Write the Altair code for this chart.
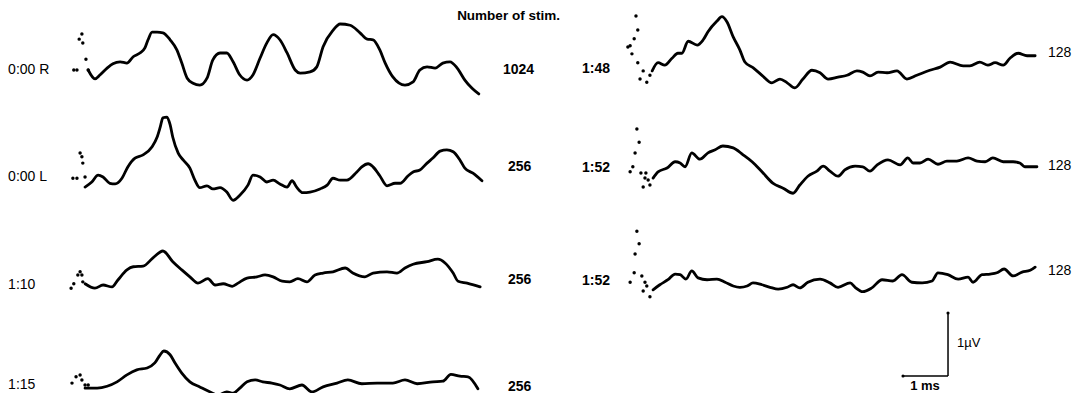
import altair as alt
import pandas as pd

# ---------------- data (time in ms from trace start, amplitude in µV) ----------------
trace_names = ["0:00 R", "0:00 L", "1:10", "1:15", "1:48", "1:52a", "1:52b"]
trace_labels = ["0:00 R", "0:00 L", "1:10", "1:15", "1:48", "1:52", "1:52"]
n_stim = ["1024", "256", "256", "256", "128", "128", "128"]

t_R = [.36, .51, .62, .78, .91, 1.07, 1.22, 1.36, 1.51, 1.62, 1.69, 1.78, 1.89, 2.02, 2.18, 2.33, 2.44, 2.56, 2.69, 2.84,
       3.00, 3.13, 3.29, 3.44, 3.58, 3.73, 3.89, 4.02, 4.18, 4.33, 4.47, 4.62, 4.78, 4.96, 5.07, 5.29, 5.44, 5.58, 5.80, 5.96,
       6.18, 6.40, 6.56, 6.69, 6.84, 6.96, 7.13, 7.40, 7.58, 7.73, 7.89, 8.07, 8.24, 8.40, 8.56, 8.73, 8.89, 9.04]
a_R = [0, -.14, -.08, .03, .10, .13, .11, .21, .27, .35, .48, .60, .60, .59, .48, .32, .11, -.13, -.21, -.24,
       -.13, .16, .27, .27, .13, -.08, -.16, -.08, .19, .43, .56, .48, .27, 0, -.05, -.03, .05, .37, .63, .73,
       .71, .59, .49, .48, .32, .11, -.11, -.24, -.19, 0, .05, .03, .11, .13, .03, -.16, -.29, -.38]

t_L = [.29, .44, .58, .69, .84, .96, 1.11, 1.24, 1.40, 1.58, 1.78, 1.89, 1.96, 2.02, 2.11, 2.18, 2.24, 2.36, 2.47, 2.62,
       2.73, 2.84, 3.00, 3.13, 3.29, 3.44, 3.58, 3.73, 3.91, 4.02, 4.18, 4.33, 4.47, 4.62, 4.78, 4.89, 5.00, 5.13, 5.29, 5.51,
       5.67, 5.80, 5.96, 6.11, 6.33, 6.44, 6.58, 6.69, 6.84, 7.00, 7.18, 7.29, 7.47, 7.58, 7.73, 7.89, 8.02, 8.18, 8.33, 8.47,
       8.62, 8.73, 8.91, 9.11]
a_L = [-.16, -.08, .03, 0, -.10, -.11, -.02, .16, .30, .35, .48, .63, .79, .94, .95, .83, .63, .38, .27, .14,
       -.05, -.17, -.14, -.19, -.17, -.24, -.37, -.29, -.13, .03, 0, -.08, -.05, -.11, -.16, -.06, -.17, -.25, -.24, -.19,
       -.13, -.02, -.05, -.05, .08, .16, .21, .16, .02, -.14, -.10, -.10, .02, .08, .11, .22, .30, .41, .43, .40,
       .27, .14, .06, -.06]

t_110 = [.29, .51, .69, .89, 1.02, 1.22, 1.36, 1.58, 1.80, 2.02, 2.24, 2.44, 2.62, 2.80, 3.02, 3.18, 3.36, 3.56, 3.69, 3.89,
         4.11, 4.29, 4.47, 4.67, 4.84, 5.02, 5.22, 5.40, 5.58, 5.80, 6.07, 6.24, 6.51, 6.69, 7.00, 7.22, 7.40, 7.58, 7.89, 8.13,
         8.29, 8.47, 8.58, 8.78, 9.07]
a_110 = [.02, -.05, 0, -.03, .08, .24, .29, .30, .43, .54, .37, .24, .13, .03, .10, 0, .02, -.02, .03, .11,
         .13, .16, .13, .06, .05, .10, .05, .16, .19, .21, .27, .19, .13, .19, .21, .19, .27, .33, .37, .41,
         .35, .19, .06, .03, -.03]

t_115 = [.29, .56, .78, 1.00, 1.22, 1.44, 1.67, 1.84, 1.96, 2.04, 2.18, 2.29, 2.44, 2.62, 2.84, 3.07, 3.24, 3.44, 3.58, 3.73,
         3.89, 4.07, 4.24, 4.44, 4.62, 4.84, 5.11, 5.33, 5.58, 5.89, 6.13, 6.44, 6.78, 7.13, 7.40, 7.67, 8.02, 8.24, 8.42, 8.62,
         8.80, 9.02]
a_115 = [-.05, -.05, -.02, .05, .16, .24, .27, .35, .48, .54, .48, .35, .19, .05, -.03, -.11, -.16, -.11, -.13, -.05,
         .05, .08, .05, .03, 0, -.06, 0, -.11, -.03, .03, .08, .02, .03, .03, .08, .02, .05, .06, .17, .14,
         .13, -.06]

t_148 = [.56, .69, .84, 1.00, 1.13, 1.22, 1.36, 1.56, 1.69, 1.80, 2.00, 2.11, 2.22, 2.36, 2.51, 2.62, 2.80, 3.00, 3.22, 3.40,
         3.56, 3.73, 3.91, 4.11, 4.29, 4.47, 4.69, 4.89, 5.11, 5.24, 5.40, 5.58, 5.78, 6.00, 6.22, 6.44, 6.73, 6.96, 7.18, 7.47,
         7.62, 7.84, 8.02, 8.18, 8.36, 8.51, 8.69, 8.89, 9.07]
a_148 = [-.03, .10, .06, .17, .25, .25, .44, .38, .46, .59, .76, .83, .75, .51, .30, .11, .02, -.10, -.22, -.16,
         -.22, -.30, -.16, -.02, -.06, -.16, -.13, -.10, -.03, -.05, -.11, -.05, -.06, -.03, -.16, -.10, -.02, .03, .11, .05,
         .05, .11, .06, .10, .06, .17, .25, .21, .21]

t_152a = [.58, .69, .89, 1.07, 1.18, 1.29, 1.44, 1.62, 1.80, 1.96, 2.13, 2.36, 2.58, 2.78, 3.00, 3.24, 3.47, 3.69, 3.84, 4.02,
          4.22, 4.36, 4.51, 4.69, 4.84, 5.07, 5.24, 5.40, 5.56, 5.80, 6.07, 6.24, 6.36, 6.51, 6.69, 6.91, 7.11, 7.33, 7.58, 7.78,
          7.96, 8.13, 8.36, 8.58, 8.73, 8.84, 9.02, 9.11]
a_152a = [-.16, -.06, 0, .10, .08, .02, .24, .14, .24, .29, .35, .32, .21, .10, -.06, -.24, -.32, -.40, -.27, -.13,
          -.05, .03, -.05, -.13, -.03, .03, .02, -.05, .05, .13, .05, .16, .08, .08, .14, .06, .11, .11, .16, .11,
          .10, .16, .10, .10, .08, .02, .02, .02]

t_152b = [.58, .73, .91, 1.07, 1.18, 1.31, 1.44, 1.58, 1.78, 2.00, 2.18, 2.36, 2.51, 2.67, 2.80, 3.00, 3.18, 3.36, 3.56, 3.69,
          3.84, 4.02, 4.29, 4.51, 4.69, 4.96, 5.07, 5.24, 5.44, 5.67, 5.91, 6.11, 6.33, 6.56, 6.78, 6.91, 7.13, 7.36, 7.58, 7.69,
          7.89, 8.07, 8.22, 8.38, 8.58, 8.78, 8.96, 9.07]
a_152b = [-.14, -.06, .02, .11, .10, .03, .16, .05, .02, .03, -.02, -.08, -.10, -.08, -.03, -.06, -.10, -.13, -.10, -.06,
          -.11, -.02, .03, -.03, -.10, -.03, -.10, -.17, -.11, .02, 0, .10, -.02, -.03, 0, .13, .10, .03, .06, -.02,
          .10, .11, .13, .19, .08, .14, .17, .22]

# stimulus-artifact dots at the start of each sweep
art_t = {
    "0:00 R": [.04, .11, .16, .22, .24, .31, .36],
    "0:00 L": [.02, .11, .18, .22, .24, .29],
    "1:10": [-.02, .04, .13, .18, .22, .24],
    "1:15": [0, .09, .18, .22, .29, .36],
    "1:48": [.20, .24, .16, .02, .07, .11, .24, .36, .29, .44, .51],
    "1:52a": [.22, .27, .18, .13, .07, .31, .42, .40, .47, .36, .51],
    "1:52b": [.22, .27, .18, .16, .07, .33, .40, .44, .36, .51],
}
art_a = {
    "0:00 R": [0, 0, .49, .57, .43, .17, 0],
    "0:00 L": [-.02, -.02, .38, .32, .22, 0],
    "1:10": [-.05, .02, .16, .21, .16, .05],
    "1:15": [.03, .13, .16, .08, 0, 0],
    "1:48": [.84, .62, .48, .35, .37, .24, .10, -.03, -.16, -.21, -.10],
    "1:52a": [.62, .41, .24, .02, -.06, -.08, -.08, -.16, -.19, -.30, -.27],
    "1:52b": [.79, .59, .43, .13, -.02, .08, -.02, -.08, -.16, -.25],
}

# ---------------- layout (ms / µV offsets of each sweep) ----------------
col_offset = {"0:00 R": 0, "0:00 L": 0, "1:10": 0, "1:15": 0, "1:48": 12.333, "1:52a": 12.333, "1:52b": 12.333}
row_offset = {"0:00 R": 5.127, "0:00 L": 3.429, "1:10": 1.714, "1:15": 0.127,
              "1:48": 5.143, "1:52a": 3.571, "1:52b": 1.778}
label_x = {0: -1.42, 12.333: 11.333}
num_x = [9.578, 9.689, 9.689, 9.689, 21.689, 21.689, 21.689]
num_y = [5.127, 3.587, 1.794, 0.095, 5.397, 3.603, 1.937]

series = {"0:00 R": (t_R, a_R), "0:00 L": (t_L, a_L), "1:10": (t_110, a_110), "1:15": (t_115, a_115),
          "1:48": (t_148, a_148), "1:52a": (t_152a, a_152a), "1:52b": (t_152b, a_152b)}

rows = []
for name, (ts, amps) in series.items():
    for t, a in zip(ts, amps):
        rows.append({"trace": name, "t": t, "X": t + col_offset[name], "Y": a + row_offset[name]})
df = pd.DataFrame(rows)

arows = []
for name in trace_names:
    for t, a in zip(art_t[name], art_a[name]):
        arows.append({"trace": name, "X": t + col_offset[name], "Y": a + row_offset[name]})
dfa = pd.DataFrame(arows)

cond = pd.DataFrame({"label": trace_labels,
                     "X": [label_x[col_offset[n]] for n in trace_names],
                     "Y": [row_offset[n] for n in trace_names],
                     "side": ["L" if col_offset[n] == 0 else "R" for n in trace_names]})
nums = pd.DataFrame({"label": n_stim, "X": num_x, "Y": num_y,
                     "side": ["L" if col_offset[n] == 0 else "R" for n in trace_names]})
title = pd.DataFrame({"label": ["Number of stim."], "X": [9.70], "Y": [5.99]})

# calibration bar: 1 ms x 1 µV
bar_x0, bar_y0 = 18.467, 0.27
hbar = pd.DataFrame({"X": [bar_x0], "X2": [bar_x0 + 1.0], "Y": [bar_y0]})
vbar = pd.DataFrame({"X": [bar_x0 + 1.0], "Y": [bar_y0], "Y2": [bar_y0 + 1.0]})
bar_ends = pd.DataFrame({"X": [bar_x0, bar_x0 + 1.0], "Y": [bar_y0, bar_y0 + 1.0]})
bar_txt = pd.DataFrame({"label": ["1µV", "1 ms"], "X": [19.667, 18.956], "Y": [0.794, 0.115]})

xs = alt.Scale(domain=[-1.4222, 22.3333], nice=False, zero=False)
ys = alt.Scale(domain=[0, 6.1111], nice=False, zero=False)
X = alt.X("X:Q", scale=xs, axis=None)
Y = alt.Y("Y:Q", scale=ys, axis=None)

FONT = "Liberation Sans"


def txt(data, align="left", weight="normal", size=14):
    return alt.Chart(data).mark_text(align=align, baseline="middle", font=FONT, fontSize=size,
                                     fontWeight=weight, color="black").encode(x=X, y=Y, text="label:N")


lines = alt.Chart(df).mark_line(color="black", strokeWidth=2.8, strokeCap="round", strokeJoin="round",
                                interpolate="monotone").encode(x=X, y=Y, detail="trace:N", order="t:Q")
arts = alt.Chart(dfa).mark_circle(color="black", size=12, opacity=1).encode(x=X, y=Y)

cond_l = txt(cond[cond.side == "L"], weight="normal")
cond_r = txt(cond[cond.side == "R"], weight="bold")
num_l = txt(nums[nums.side == "L"], weight="bold")
num_r = txt(nums[nums.side == "R"], weight="normal")
title_txt = txt(title, align="center", weight="bold", size=13.5)

h = alt.Chart(hbar).mark_rule(color="black", strokeWidth=1.5).encode(x=X, x2="X2:Q", y=Y)
v = alt.Chart(vbar).mark_rule(color="black", strokeWidth=1.5).encode(x=X, y=Y, y2="Y2:Q")
ends = alt.Chart(bar_ends).mark_circle(color="black", size=10, opacity=1).encode(x=X, y=Y)
btxt_v = txt(bar_txt.iloc[[0]], weight="normal", size=13)
btxt_h = txt(bar_txt.iloc[[1]], align="center", weight="bold", size=13)

chart = alt.layer(lines, arts, cond_l, cond_r, num_l, num_r, title_txt, h, v, ends, btxt_v, btxt_h).properties(
    width=1069, height=385, padding=0, autosize=alt.AutoSizeParams(type="none"), background="white"
).configure_view(stroke=None)

chart.save("out.html", embed_options={"renderer": "svg", "actions": False})
